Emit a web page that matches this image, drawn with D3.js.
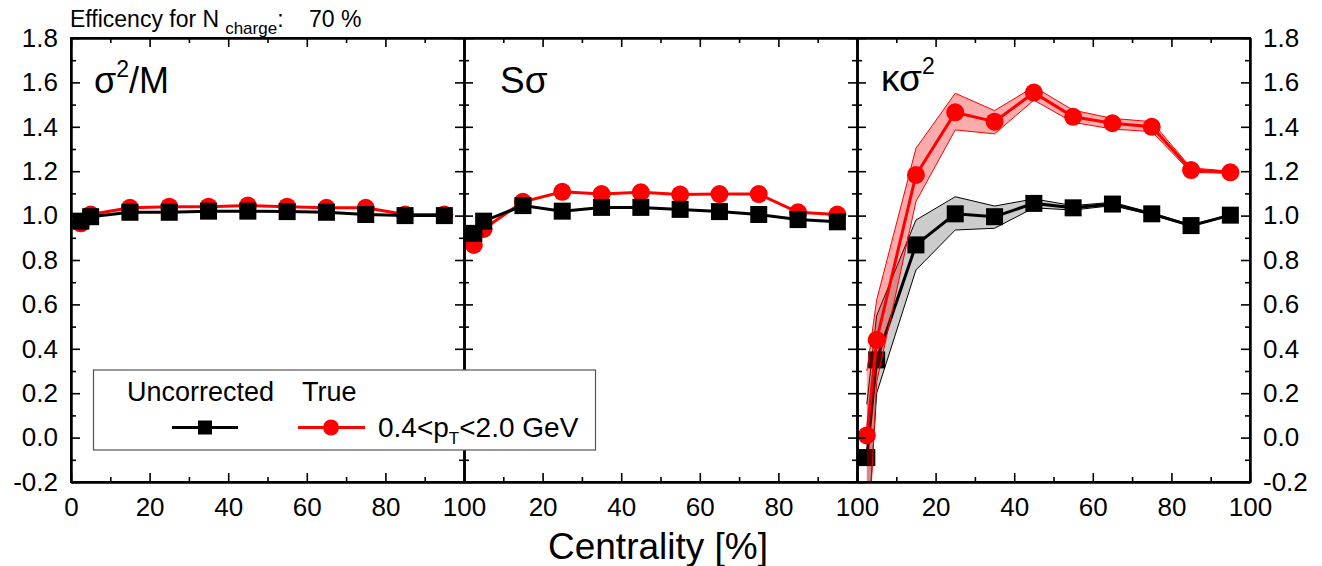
<!DOCTYPE html>
<html>
<head>
<meta charset="utf-8">
<script src="https://cdn.jsdelivr.net/npm/d3@7"></script>
<style>
  html, body { margin: 0; padding: 0; background: #fff; }
  svg { display: block; font-family: "Liberation Sans", Arial, sans-serif; }
</style>
</head>
<body>
<svg id="chart" width="1322" height="566"></svg>
<script>
// Centrality bins (%) shared by all three panels
const centrality = [2.5, 5, 15, 25, 35, 45, 55, 65, 75, 85, 95];

// sigma^2 / M
const uncorrSigma2M = [0.975, 0.995, 1.015, 1.015, 1.02, 1.02, 1.018, 1.015, 1.005, 1.0, 1.0];
const trueSigma2M   = [0.965, 1.005, 1.035, 1.04, 1.04, 1.045, 1.04, 1.035, 1.035, 1.005, 1.005];

// S sigma
const uncorrSSigma = [0.92, 0.975, 1.045, 1.02, 1.037, 1.037, 1.028, 1.018, 1.005, 0.982, 0.972];
const trueSSigma   = [0.868, 0.94, 1.062, 1.107, 1.097, 1.105, 1.095, 1.097, 1.097, 1.015, 1.005];

// kappa sigma^2 with uncertainty bands
const uncorrKSigma2   = [-0.09, 0.35, 0.868, 1.008, 0.995, 1.055, 1.035, 1.052, 1.008, 0.955, 1.002];
const uncorrKSigma2Lo = [-0.5, 0.2, 0.755, 0.935, 0.943, 1.035, 1.025, 1.045, 1.003, 0.952, 0.999];
const uncorrKSigma2Hi = [0.15, 0.55, 0.98, 1.085, 1.043, 1.075, 1.045, 1.06, 1.013, 0.958, 1.005];
const trueKSigma2     = [0.01, 0.44, 1.183, 1.465, 1.423, 1.554, 1.445, 1.416, 1.40, 1.205, 1.195];
const trueKSigma2Lo   = [-0.6, 0.25, 1.063, 1.386, 1.368, 1.52, 1.42, 1.39, 1.378, 1.195, 1.19];
const trueKSigma2Hi   = [0.3, 0.62, 1.303, 1.551, 1.473, 1.58, 1.475, 1.438, 1.423, 1.215, 1.2];

// Axis ticks
const yMajorTicks = [-0.2, 0.0, 0.2, 0.4, 0.6, 0.8, 1.0, 1.2, 1.4, 1.6, 1.8];
const yMinorTicks = [-0.1, 0.1, 0.3, 0.5, 0.7, 0.9, 1.1, 1.3, 1.5, 1.7];
const xMajorTicks = [0, 20, 40, 60, 80, 100];
const xMinorTicks = [10, 30, 50, 70, 90];

const panels = [
  { uncorr: uncorrSigma2M, tru: trueSigma2M, redOnTop: false },
  { uncorr: uncorrSSigma, tru: trueSSigma, redOnTop: false },
  { uncorr: uncorrKSigma2, tru: trueKSigma2, redOnTop: true,
    uncorrLo: uncorrKSigma2Lo, uncorrHi: uncorrKSigma2Hi,
    truLo: trueKSigma2Lo, truHi: trueKSigma2Hi }
];

const svg = d3.select("#chart");
const plotLeft = 71, plotTop = 38, plotBottom = 482, pw = 393;
const plotRight = plotLeft + 3 * pw;

const y = d3.scaleLinear().domain([-0.2, 1.8]).range([plotBottom, plotTop]);
const fmt = d => (Math.abs(d) < 1e-9 ? 0 : d).toFixed(1);

const defs = svg.append("defs");

panels.forEach((p, i) => {
  const x0 = plotLeft + i * pw;
  const x = d3.scaleLinear().domain([0, 100]).range([x0, x0 + pw]);
  defs.append("clipPath").attr("id", "clip" + i)
    .append("rect").attr("x", x0).attr("y", plotTop).attr("width", pw).attr("height", plotBottom - plotTop);

  const g = svg.append("g").attr("clip-path", `url(#clip${i})`);
  const line = d3.line().x((d, k) => x(centrality[k])).y(d => y(d));

  const drawBand = (lo, hi, fill, stroke) => {
    const area = d3.area()
      .x((d, k) => x(centrality[k]))
      .y0((d, k) => y(lo[k]))
      .y1((d, k) => y(hi[k]));
    g.append("path").datum(lo).attr("d", area)
      .attr("fill", fill).attr("stroke", "none");
    g.append("path").datum(lo).attr("d", line).attr("fill", "none").attr("stroke", stroke).attr("stroke-width", 1);
    g.append("path").datum(hi).attr("d", line).attr("fill", "none").attr("stroke", stroke).attr("stroke-width", 1);
  };

  const drawUncorr = () => {
    if (p.uncorrLo) drawBand(p.uncorrLo, p.uncorrHi, "rgba(0,0,0,0.2)", "#000");
    g.append("path").datum(p.uncorr).attr("d", line)
      .attr("fill", "none").attr("stroke", "#000").attr("stroke-width", 3);
    g.selectAll(null).data(p.uncorr).enter().append("rect")
      .attr("x", (d, k) => x(centrality[k]) - 8.5)
      .attr("y", d => y(d) - 8.5)
      .attr("width", 17).attr("height", 17).attr("fill", "#000");
  };
  const drawTrue = () => {
    if (p.truLo) drawBand(p.truLo, p.truHi, "rgba(240,0,0,0.33)", "#f00");
    g.append("path").datum(p.tru).attr("d", line)
      .attr("fill", "none").attr("stroke", "#f00").attr("stroke-width", 3);
    g.selectAll(null).data(p.tru).enter().append("circle")
      .attr("cx", (d, k) => x(centrality[k]))
      .attr("cy", d => y(d))
      .attr("r", 9).attr("fill", "#f00");
  };
  if (p.redOnTop) { drawUncorr(); drawTrue(); } else { drawTrue(); drawUncorr(); }

  // bottom axis: ticks pointing inward, labels below
  svg.append("g").attr("transform", `translate(0,${plotBottom})`)
    .call(d3.axisBottom(x).tickValues(i === 0 ? xMajorTicks : xMajorTicks.slice(1))
      .tickSizeInner(-9).tickSizeOuter(0).tickPadding(16).tickFormat(d3.format("d")));
  svg.append("g").attr("transform", `translate(0,${plotBottom})`)
    .call(d3.axisBottom(x).tickValues(xMinorTicks).tickSizeInner(-5).tickSizeOuter(0).tickFormat(""));
  // top axis: ticks pointing inward
  svg.append("g").attr("transform", `translate(0,${plotTop})`)
    .call(d3.axisTop(x).tickValues(xMajorTicks).tickSizeInner(-9).tickSizeOuter(0).tickFormat(""));
  svg.append("g").attr("transform", `translate(0,${plotTop})`)
    .call(d3.axisTop(x).tickValues(xMinorTicks).tickSizeInner(-5).tickSizeOuter(0).tickFormat(""));
});

// vertical axes: left, panel dividers, right
const vAxis = (xPos, dir, withLabels) => {
  const mk = dir === "left" ? d3.axisLeft : d3.axisRight;
  svg.append("g").attr("transform", `translate(${xPos},0)`)
    .call(mk(y).tickValues(yMajorTicks).tickSizeInner(-9).tickSizeOuter(0)
      .tickPadding(withLabels ? 13 : 0).tickFormat(withLabels ? fmt : ""));
  svg.append("g").attr("transform", `translate(${xPos},0)`)
    .call(mk(y).tickValues(yMinorTicks).tickSizeInner(-5).tickSizeOuter(0).tickFormat(""));
};
vAxis(plotLeft, "left", true);
vAxis(plotLeft + pw, "left", false);
vAxis(plotLeft + pw, "right", false);
vAxis(plotLeft + 2 * pw, "left", false);
vAxis(plotLeft + 2 * pw, "right", false);
vAxis(plotRight, "right", true);

svg.selectAll(".domain").attr("stroke", "#000").attr("stroke-width", 2);
svg.selectAll(".tick line").attr("stroke", "#000").attr("stroke-width", 1.6);
svg.selectAll(".tick text").attr("font-size", 26).attr("fill", "#000")
  .attr("font-family", "'Liberation Sans', Arial, sans-serif");

// frame edges
svg.append("rect").attr("x", plotLeft).attr("y", plotTop)
  .attr("width", plotRight - plotLeft).attr("height", plotBottom - plotTop)
  .attr("fill", "none").attr("stroke", "#000").attr("stroke-width", 2);

// panel labels
const pl1 = svg.append("text").attr("x", 94).attr("y", 93).attr("font-size", 36);
pl1.append("tspan").text("σ");
pl1.append("tspan").attr("font-size", 23).attr("dy", -16).text("2");
pl1.append("tspan").attr("dy", 16).text("/M");
const pl2 = svg.append("text").attr("x", 500).attr("y", 93).attr("font-size", 37);
pl2.append("tspan").text("Sσ");
const pl3 = svg.append("text").attr("x", 881).attr("y", 91).attr("font-size", 37);
pl3.append("tspan").text("κσ");
pl3.append("tspan").attr("font-size", 23).attr("dy", -17).text("2");

// header
const hdr = svg.append("text").attr("x", 70).attr("y", 27).attr("font-size", 23)
  .attr("xml:space", "preserve").style("white-space", "pre");
hdr.append("tspan").text("Efficency for N");
hdr.append("tspan").attr("font-size", 17).attr("dy", 7).attr("dx", 6).text("charge");
hdr.append("tspan").attr("dy", -7).text(":    70 %");

// x axis title
svg.append("text").attr("x", 658).attr("y", 559).attr("text-anchor", "middle")
  .attr("font-size", 37).text("Centrality [%]");

// legend
const lg = svg.append("g");
lg.append("rect").attr("x", 93.5).attr("y", 370).attr("width", 502).attr("height", 80)
  .attr("fill", "#fff").attr("stroke", "#555").attr("stroke-width", 1.2);
lg.append("text").attr("x", 127).attr("y", 401).attr("font-size", 27).text("Uncorrected");
lg.append("text").attr("x", 302).attr("y", 401).attr("font-size", 27).text("True");
lg.append("line").attr("x1", 172).attr("x2", 238).attr("y1", 427.5).attr("y2", 427.5)
  .attr("stroke", "#000").attr("stroke-width", 3);
lg.append("rect").attr("x", 198).attr("y", 420.5).attr("width", 14).attr("height", 14).attr("fill", "#000");
lg.append("line").attr("x1", 298).attr("x2", 365).attr("y1", 427.5).attr("y2", 427.5)
  .attr("stroke", "#f00").attr("stroke-width", 3);
lg.append("circle").attr("cx", 331).attr("cy", 427.5).attr("r", 8).attr("fill", "#f00");
const lt = lg.append("text").attr("x", 378).attr("y", 437).attr("font-size", 28);
lt.append("tspan").text("0.4<p");
lt.append("tspan").attr("font-size", 17).attr("dy", 7).text("T");
lt.append("tspan").attr("dy", -7).text("<2.0 GeV");
</script>
</body>
</html>
